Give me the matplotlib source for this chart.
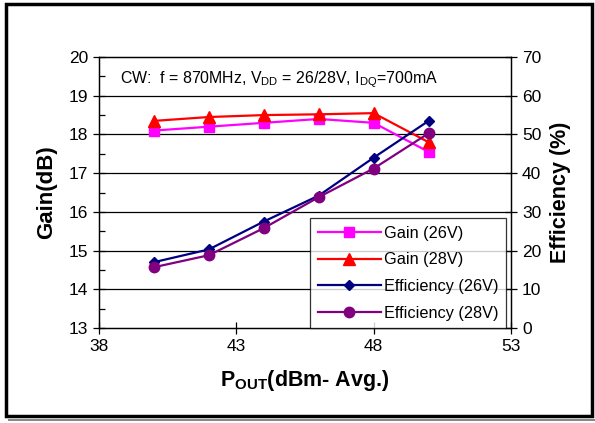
import matplotlib
matplotlib.use("Agg")
import matplotlib.pyplot as plt
from matplotlib.patches import Rectangle
from matplotlib.ticker import MultipleLocator

plt.rcParams['font.family'] = ['Liberation Sans', 'DejaVu Sans']

pout = [40, 42, 44, 46, 48, 50]
gain_26 = [18.10, 18.20, 18.30, 18.40, 18.30, 17.55]
gain_28 = [18.35, 18.45, 18.50, 18.52, 18.55, 17.80]
eff_26 = [17.0, 20.3, 27.5, 34.2, 44.0, 53.5]
eff_28 = [15.7, 18.8, 25.8, 33.8, 41.2, 50.3]

fig = plt.figure(figsize=(5.95, 4.23), dpi=100)
ax = fig.add_axes([0.1664, 0.2246, 0.6924, 0.6406])
ax2 = ax.twinx()

ax.set_xlim(38, 53)
ax.set_ylim(13, 20)
ax2.set_ylim(0, 70)
ax.set_xticks([38, 43, 48, 53])
ax.set_yticks(range(13, 21))
ax.yaxis.set_minor_locator(MultipleLocator(0.5))
ax2.set_yticks(range(0, 71, 10))

for y in range(14, 20):
    ax.axhline(y, color='black', lw=0.9, zorder=0)

l1, = ax.plot(pout, gain_26, color='#FF00FF', marker='s', ms=7.5, lw=1.6, label='Gain (26V)', zorder=3)
l2, = ax.plot(pout, gain_28, color='#FF0000', marker='^', ms=8, lw=1.6, label='Gain (28V)', zorder=3)
l3, = ax2.plot(pout, eff_26, color='#000080', marker='D', ms=5.5, lw=1.6, label='Efficiency (26V)', zorder=3)
l4, = ax2.plot(pout, eff_28, color='#800080', marker='o', ms=7.5, lw=1.6, label='Efficiency (28V)', zorder=3)

for a in (ax, ax2):
    for s in a.spines.values():
        s.set_color('black')
        s.set_linewidth(0.9)
ax.tick_params(axis='both', which='major', direction='inout', length=8, width=0.9, labelsize=12.5, pad=4)
ax.tick_params(axis='y', which='minor', direction='in', length=4, width=0.9)
ax2.tick_params(axis='y', which='major', direction='inout', length=8, width=0.9, labelsize=12.5, pad=4)

ax.set_ylabel('Gain(dB)', fontsize=16, fontweight='bold', labelpad=8)
ax2.set_ylabel('Efficiency (%)', fontsize=15.5, fontweight='bold', labelpad=6)
ax.set_xlabel(r'P$_{\mathregular{OUT}}$(dBm- Avg.)', fontsize=15.5, fontweight='bold', labelpad=10)

ax.text(0.05, 0.955, r'CW:  f = 870MHz, V$_{\mathregular{DD}}$ = 26/28V, I$_{\mathregular{DQ}}$=700mA',
        transform=ax.transAxes, fontsize=11.4, va='top', ha='left')

leg = ax2.legend(handles=[l1, l2, l3, l4], loc='lower right', bbox_to_anchor=(0.988, 0.0),
                 fontsize=11.7, frameon=True, fancybox=False, borderpad=0.45, labelspacing=0.72,
                 handlelength=3.9, handletextpad=0.2, borderaxespad=0)
leg.get_frame().set_edgecolor('black')
leg.get_frame().set_linewidth(0.9)

fig.patches.append(Rectangle((5.5/595, 1 - 416/423), (592 - 5.5)/595, (416 - 4.5)/423,
                             transform=fig.transFigure, fill=False, edgecolor='black', lw=2.5))
fig.patches.append(Rectangle((8/595, 1 - 421/423), 587/595, 2/423,
                             transform=fig.transFigure, facecolor='#888888', edgecolor='none'))

fig.savefig('out.png', dpi=100)
